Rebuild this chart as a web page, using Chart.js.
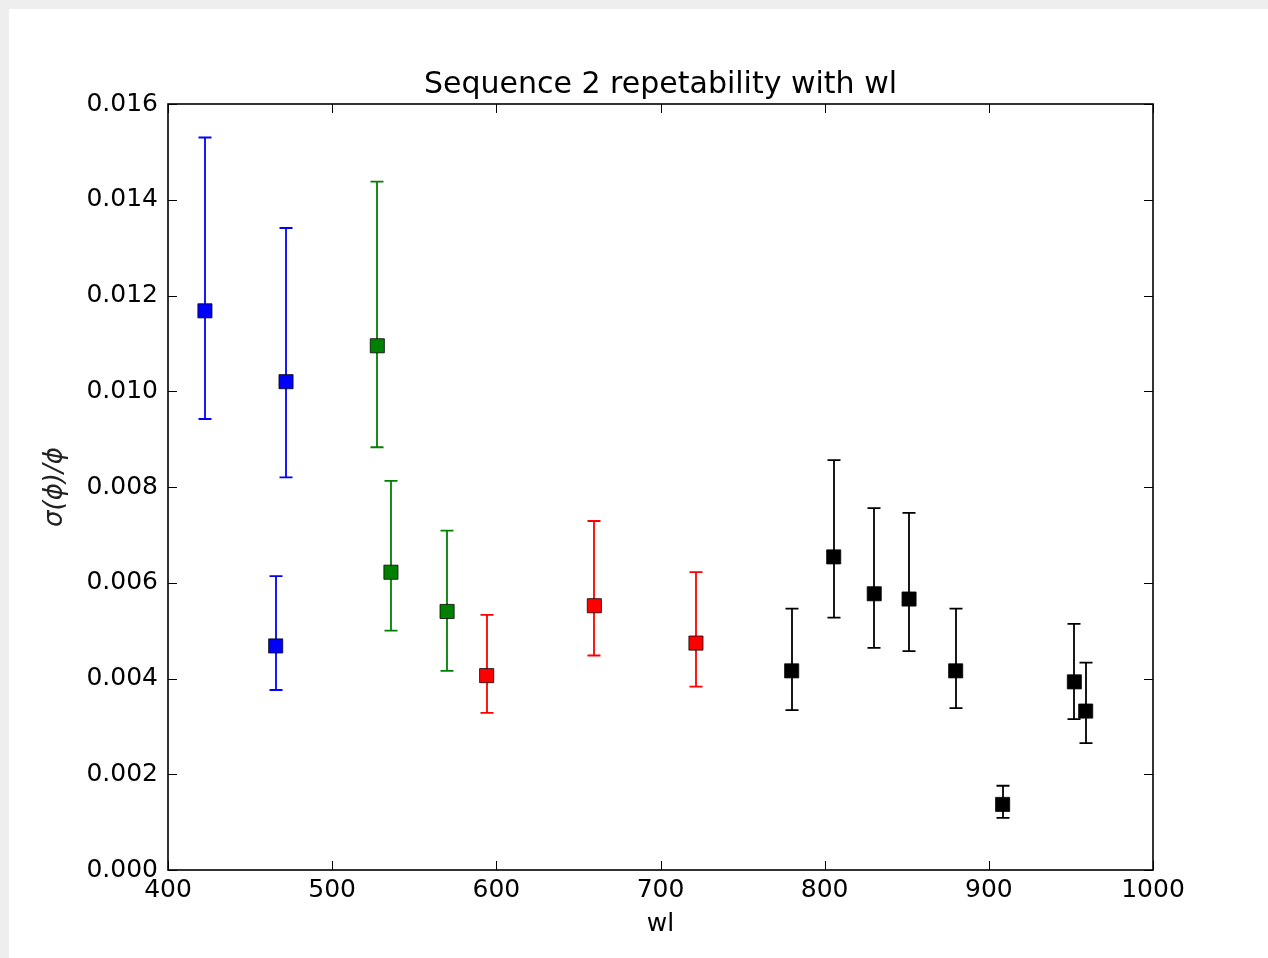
<!DOCTYPE html>
<html>
<head>
<meta charset="utf-8">
<script src="https://cdn.jsdelivr.net/npm/chart.js@4/dist/chart.umd.min.js"></script>
<style>
  body { margin: 0; background: #eeeeee; }
  #wrap { position: absolute; left: 9px; top: 9px; width: 1259px; height: 949px; background: #ffffff; }
</style>
</head>
<body>
<div id="wrap"><canvas id="myChart" width="1259" height="949"></canvas></div>
<script>
// wavelengths, sigma(phi)/phi, lower and upper end of each error bar
const blueWl = [422.5, 465.6, 471.9];
const blueVal = [0.01168, 0.00468, 0.01020];
const blueLow = [0.00942, 0.00376, 0.00820];
const blueHigh = [0.01530, 0.00614, 0.01341];

const greenWl = [527.5, 535.8, 570.0];
const greenVal = [0.01095, 0.00622, 0.00540];
const greenLow = [0.00883, 0.00500, 0.00416];
const greenHigh = [0.01438, 0.00813, 0.00709];

const redWl = [594.1, 659.7, 721.6];
const redVal = [0.00406, 0.00552, 0.00474];
const redLow = [0.00328, 0.00448, 0.00383];
const redHigh = [0.00533, 0.00729, 0.00622];

const blackWl = [779.9, 805.5, 830.2, 851.4, 879.8, 908.4, 952.1, 959.0];
const blackVal = [0.00416, 0.00654, 0.00577, 0.00566, 0.00416, 0.00137, 0.00393, 0.00332];
const blackLow = [0.00334, 0.00527, 0.00464, 0.00457, 0.00338, 0.00109, 0.00315, 0.00265];
const blackHigh = [0.00546, 0.00856, 0.00756, 0.00746, 0.00546, 0.00176, 0.00514, 0.00433];

const xTickLabels = ['400', '500', '600', '700', '800', '900', '1000'];
const yTickLabels = ['0.000', '0.002', '0.004', '0.006', '0.008', '0.010', '0.012', '0.014', '0.016'];

const FONT = "'DejaVu Sans', sans-serif";
const barCanvas = document.getElementById("myChart");

function makeSet(wl, val, low, high, color) {
  return {
    data: wl.map((x, i) => ({ x: x, y: val[i] })),
    errLow: low,
    errHigh: high,
    barColor: color,
    backgroundColor: color,
    borderColor: "rgba(0,0,0,0.75)",
    borderWidth: 1,
    pointStyle: "rect",
    pointRadius: 10,
    pointHoverRadius: 10,
    showLine: false
  };
}

// vertical error bars with caps, drawn under the markers
const errorBars = {
  id: "errorBars",
  beforeDatasetsDraw(chart) {
    const ctx = chart.ctx;
    const xs = chart.scales.x;
    const ys = chart.scales.y;
    ctx.save();
    ctx.lineWidth = 1.8;
    chart.data.datasets.forEach((ds) => {
      ctx.strokeStyle = ds.barColor;
      ds.data.forEach((p, i) => {
        const px = Math.round(xs.getPixelForValue(p.x));
        const top = ys.getPixelForValue(ds.errHigh[i]);
        const bot = ys.getPixelForValue(ds.errLow[i]);
        ctx.beginPath();
        ctx.moveTo(px, top);
        ctx.lineTo(px, bot);
        ctx.moveTo(px - 6.5, top);
        ctx.lineTo(px + 6.5, top);
        ctx.moveTo(px - 6.5, bot);
        ctx.lineTo(px + 6.5, bot);
        ctx.stroke();
      });
    });
    ctx.restore();
  }
};

// box round the plot with ticks pointing inwards on all four sides
const frame = {
  id: "frame",
  afterDraw(chart) {
    const ctx = chart.ctx;
    const a = chart.chartArea;
    const xs = chart.scales.x;
    const ys = chart.scales.y;
    ctx.save();
    ctx.strokeStyle = "#000";
    ctx.lineWidth = 1;
    ctx.beginPath();
    xs.ticks.forEach((t) => {
      const px = Math.round(xs.getPixelForValue(t.value)) + 0.5;
      ctx.moveTo(px, a.bottom);
      ctx.lineTo(px, a.bottom - 9);
      ctx.moveTo(px, a.top);
      ctx.lineTo(px, a.top + 9);
    });
    ys.ticks.forEach((t) => {
      const py = Math.round(ys.getPixelForValue(t.value)) + 0.5;
      ctx.moveTo(a.left, py);
      ctx.lineTo(a.left + 9, py);
      ctx.moveTo(a.right, py);
      ctx.lineTo(a.right - 9, py);
    });
    ctx.stroke();
    ctx.lineWidth = 1.6;
    ctx.strokeRect(a.left, a.top, a.right - a.left, a.bottom - a.top);
    ctx.restore();
  }
};

const chart = new Chart(barCanvas, {
  type: "scatter",
  data: {
    datasets: [
      makeSet(blueWl, blueVal, blueLow, blueHigh, "#0000ff"),
      makeSet(greenWl, greenVal, greenLow, greenHigh, "#008000"),
      makeSet(redWl, redVal, redLow, redHigh, "#ff0000"),
      makeSet(blackWl, blackVal, blackLow, blackHigh, "#000000")
    ]
  },
  options: {
    responsive: false,
    animation: false,
    layout: {
      padding: { left: 0, right: 115, top: 0, bottom: 0 }
    },
    scales: {
      x: {
        type: "linear",
        min: 400,
        max: 1000,
        afterFit: (scale) => { scale.height = 88; },
        ticks: {
          stepSize: 100,
          padding: 5,
          color: "#000",
          font: { family: FONT, size: 25 },
          callback: (v, i) => xTickLabels[i]
        },
        grid: { display: false, drawTicks: false },
        border: { display: false },
        title: {
          display: true,
          text: "wl",
          color: "#000",
          font: { family: FONT, size: 25 },
          padding: { top: 0, bottom: 19 }
        }
      },
      y: {
        min: 0,
        max: 0.016,
        afterFit: (scale) => { scale.width = 159; },
        ticks: {
          stepSize: 0.002,
          padding: 10,
          color: "#000",
          font: { family: FONT, size: 25 },
          callback: (v, i) => yTickLabels[i]
        },
        grid: { display: false, drawTicks: false },
        border: { display: false },
        title: {
          display: true,
          text: "σ(ϕ)/ϕ",
          color: "#222",
          font: { family: FONT, size: 26, style: "italic" },
          padding: { top: 31, bottom: 0 }
        }
      }
    },
    plugins: {
      legend: { display: false },
      tooltip: { enabled: false },
      title: {
        display: true,
        fullSize: false,
        text: "Sequence 2 repetability with wl",
        color: "#000",
        font: { family: FONT, size: 30, weight: "normal" },
        padding: { top: 58, bottom: 1 }
      }
    }
  },
  plugins: [errorBars, frame]
});
</script>
</body>
</html>
